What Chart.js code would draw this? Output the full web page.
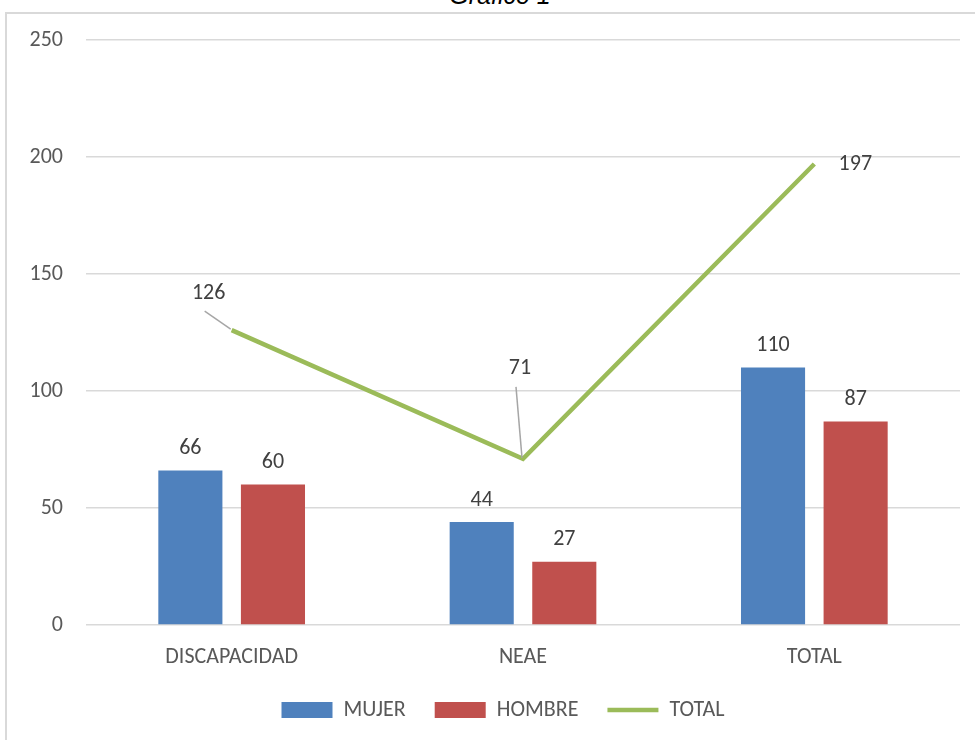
<!DOCTYPE html>
<html>
<head>
<meta charset="utf-8">
<title>Gráfico 1</title>
<script src="https://cdn.jsdelivr.net/npm/chart.js@4"></script>
<style>
  body { margin: 0; background: #fff; overflow: hidden; }
  #wrap { position: relative; width: 975px; height: 740px; }
  #frame {
    position: absolute; left: 5px; top: 12px; width: 1000px; height: 800px;
    border: 2px solid #d9d9d9; box-sizing: border-box;
  }
  #title {
    position: absolute; left: 0; width: 1000px; top: -17px; text-align: center;
    font: italic 25px "Liberation Sans", Arial, sans-serif; color: #000; line-height: 25px;
  }
  canvas { position: absolute; left: 0; top: 0; }
</style>
</head>
<body>
<div id="wrap">
  <div id="frame"></div>
  <div id="title">Gráfico 1</div>
  <canvas id="chart" width="975" height="740"></canvas>
</div>
<script>
// Chart data
const categories = ["DISCAPACIDAD", "NEAE", "TOTAL"];
const mujer = [66, 44, 110];
const hombre = [60, 27, 87];
const total = [126, 71, 197];
const yTicks = [0, 50, 100, 150, 200, 250];

const FONT = '"Carlito", "Lato", sans-serif';
const SIZE = 22;
const TEXT = "#595959";

// where the line labels sit relative to their point (dx, dy) and whether a leader line is drawn
const lineLabelPlacement = [
  { dx: -23, dy: -37, leader: true },
  { dx: -3, dy: -90, leader: true },
  { dx: 41, dy: 0, leader: false },
];

// Value labels drawn on top of the marks
const valueLabels = {
  id: "valueLabels",
  afterLayout(chart) {
    // legend sits a bit right of centre in the original
    chart.legend.left += 23;
    chart.legend.right += 23;
  },
  afterDatasetsDraw(chart) {
    const ctx = chart.ctx;
    ctx.save();
    ctx.font = SIZE + "px " + FONT;
    ctx.fillStyle = "#404040";
    ctx.textAlign = "center";
    ctx.textBaseline = "middle";
    chart.data.datasets.forEach((ds, i) => {
      const meta = chart.getDatasetMeta(i);
      meta.data.forEach((el, j) => {
        const v = ds.data[j];
        if (ds.type === "line") {
          const p = lineLabelPlacement[j];
          const lx = el.x + p.dx, ly = el.y + p.dy;
          if (p.leader) {
            ctx.strokeStyle = "#a6a6a6";
            ctx.lineWidth = 1.5;
            ctx.beginPath();
            ctx.moveTo(lx - 4, ly + 18);
            ctx.lineTo(el.x - 1, el.y - 1);
            ctx.stroke();
          }
          ctx.fillText(v, lx, ly);
        } else {
          ctx.fillText(v, el.x, el.y - 22);
        }
      });
    });
    ctx.restore();
  },
};

const ctx = document.getElementById("chart").getContext("2d");
new Chart(ctx, {
  data: {
    labels: categories,
    datasets: [
      {
        type: "bar",
        label: "MUJER",
        data: mujer,
        backgroundColor: "#4F81BD",
        borderWidth: 0,
        categoryPercentage: 0.567,
        barPercentage: 0.776,
        order: 2,
      },
      {
        type: "bar",
        label: "HOMBRE",
        data: hombre,
        backgroundColor: "#C0504D",
        borderWidth: 0,
        categoryPercentage: 0.567,
        barPercentage: 0.776,
        order: 2,
      },
      {
        type: "line",
        label: "TOTAL",
        data: total,
        borderColor: "#9BBB59",
        backgroundColor: "#9BBB59",
        borderWidth: 4.5,
        pointRadius: 0,
        tension: 0,
        order: 1,
      },
    ],
  },
  options: {
    responsive: false,
    animation: false,
    layout: { padding: { top: 40, right: 15, bottom: 9, left: 0 } },
    scales: {
      x: {
        grid: { display: false },
        border: { display: false },
        ticks: { font: { family: FONT, size: SIZE }, color: TEXT, padding: 11 },
        afterFit: (s) => { s.height = 45; },
      },
      y: {
        min: 0,
        max: 250,
        afterBuildTicks: (s) => { s.ticks = yTicks.map((v) => ({ value: v })); },
        grid: { color: "#d9d9d9", lineWidth: 1.5, drawTicks: false },
        border: { display: false },
        ticks: { font: { family: FONT, size: SIZE }, color: TEXT, padding: 23 },
        afterFit: (s) => { s.width = 86; },
      },
    },
    plugins: {
      legend: {
        position: "bottom",
        maxHeight: 62,
        labels: {
          usePointStyle: true,
          pointStyleWidth: 51,
          boxHeight: 16,
          padding: 29,
          font: { family: FONT, size: SIZE },
          color: TEXT,
          generateLabels: (chart) =>
            chart.data.datasets.map((ds, i) => ({
              text: ds.label,
              datasetIndex: i,
              fillStyle: ds.backgroundColor,
              strokeStyle: ds.type === "line" ? ds.borderColor : ds.backgroundColor,
              lineWidth: ds.type === "line" ? 4.5 : 0,
              pointStyle: ds.type === "line" ? "line" : "rect",
              fontColor: TEXT,
            })),
        },
      },
      tooltip: { enabled: false },
    },
  },
  plugins: [valueLabels],
});
</script>
</body>
</html>
